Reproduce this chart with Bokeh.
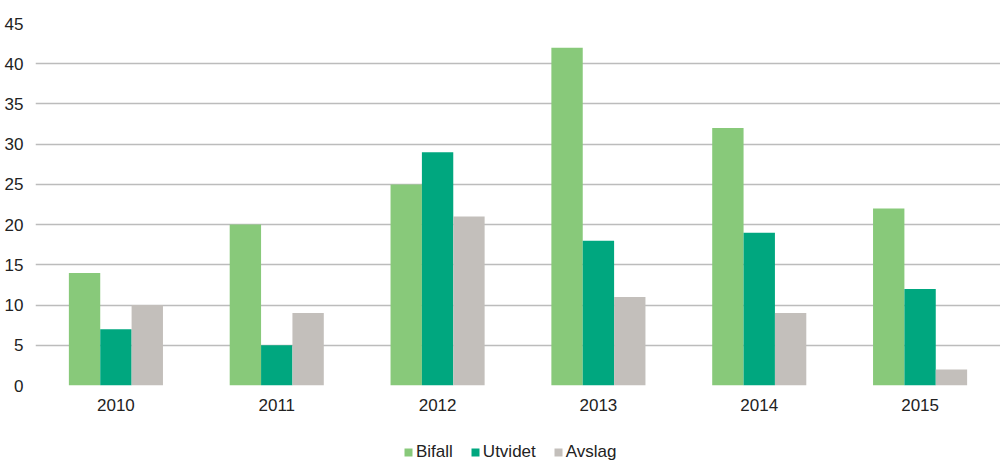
from bokeh.plotting import figure
from bokeh.models import FactorRange, Range1d, Legend, LegendItem, ColumnDataSource, SingleIntervalTicker
from bokeh.transform import dodge
from bokeh.layouts import column
from bokeh.embed import file_html
from bokeh.resources import INLINE

years = ["2010", "2011", "2012", "2013", "2014", "2015"]
series = ["Bifall", "Utvidet", "Avslag"]
bifall = [14, 20, 25, 42, 32, 22]
utvidet = [7, 5, 29, 18, 19, 12]
avslag = [10, 9, 21, 11, 9, 2]
colors = ["#88c97a", "#00a77f", "#c3bfbb"]

source = ColumnDataSource(dict(year=years, Bifall=bifall, Utvidet=utvidet, Avslag=avslag))

p = figure(x_range=FactorRange(*years), y_range=Range1d(0, 45),
           width=1000, height=424, output_backend="svg", toolbar_location=None,
           min_border_left=35, min_border_right=0, min_border_top=23, min_border_bottom=39)

offsets = [-0.195, 0.0, 0.195]
for s, c, off in zip(series, colors, offsets):
    p.vbar(x=dodge("year", off, range=p.x_range), top=s, width=0.195, source=source,
           fill_color=c, line_color=None)

FONT = "Liberation Sans"
p.outline_line_color = None
p.background_fill_color = "white"
p.xgrid.grid_line_color = None
p.ygrid.grid_line_color = "#bcbcbc"
p.ygrid.grid_line_width = 1.5
p.yaxis.ticker = SingleIntervalTicker(interval=5)
for ax in (p.xaxis[0], p.yaxis[0]):
    ax.axis_line_color = None
    ax.major_tick_line_color = None
    ax.minor_tick_line_color = None
    ax.major_tick_out = 0
    ax.major_tick_in = 0
    ax.minor_tick_out = 0
    ax.major_label_text_font = FONT
    ax.major_label_text_font_size = "17px"
    ax.major_label_text_color = "#222222"
p.xaxis.major_label_standoff = 13
p.yaxis.major_label_standoff = 12
p.x_range.range_padding = 0
p.x_range.group_padding = 0

# legend in its own strip below the chart (proxy glyphs lie outside the strip's range)
lg = figure(width=1000, height=52, output_backend="svg", toolbar_location=None,
            x_range=Range1d(0, 1), y_range=Range1d(0, 1),
            min_border=0)
lg.axis.visible = False
lg.grid.grid_line_color = None
lg.outline_line_color = None
proxy = ColumnDataSource(dict(x=[10], top=[0]))
items = []
for s, c in zip(series, colors):
    r = lg.vbar(x="x", top="top", width=0.1, source=proxy, fill_color=c, line_color=None)
    items.append(LegendItem(label=s, renderers=[r]))
legend = Legend(items=items, orientation="horizontal", location=(368, 14),
                label_text_font=FONT, label_text_font_size="17px", label_text_color="#222222",
                glyph_width=10, glyph_height=10, label_standoff=3, spacing=17,
                border_line_color=None, background_fill_alpha=0, margin=0, padding=4)
lg.add_layout(legend, "center")

layout = column(p, lg, spacing=0)
open("out.html", "w").write(file_html(layout, INLINE))
